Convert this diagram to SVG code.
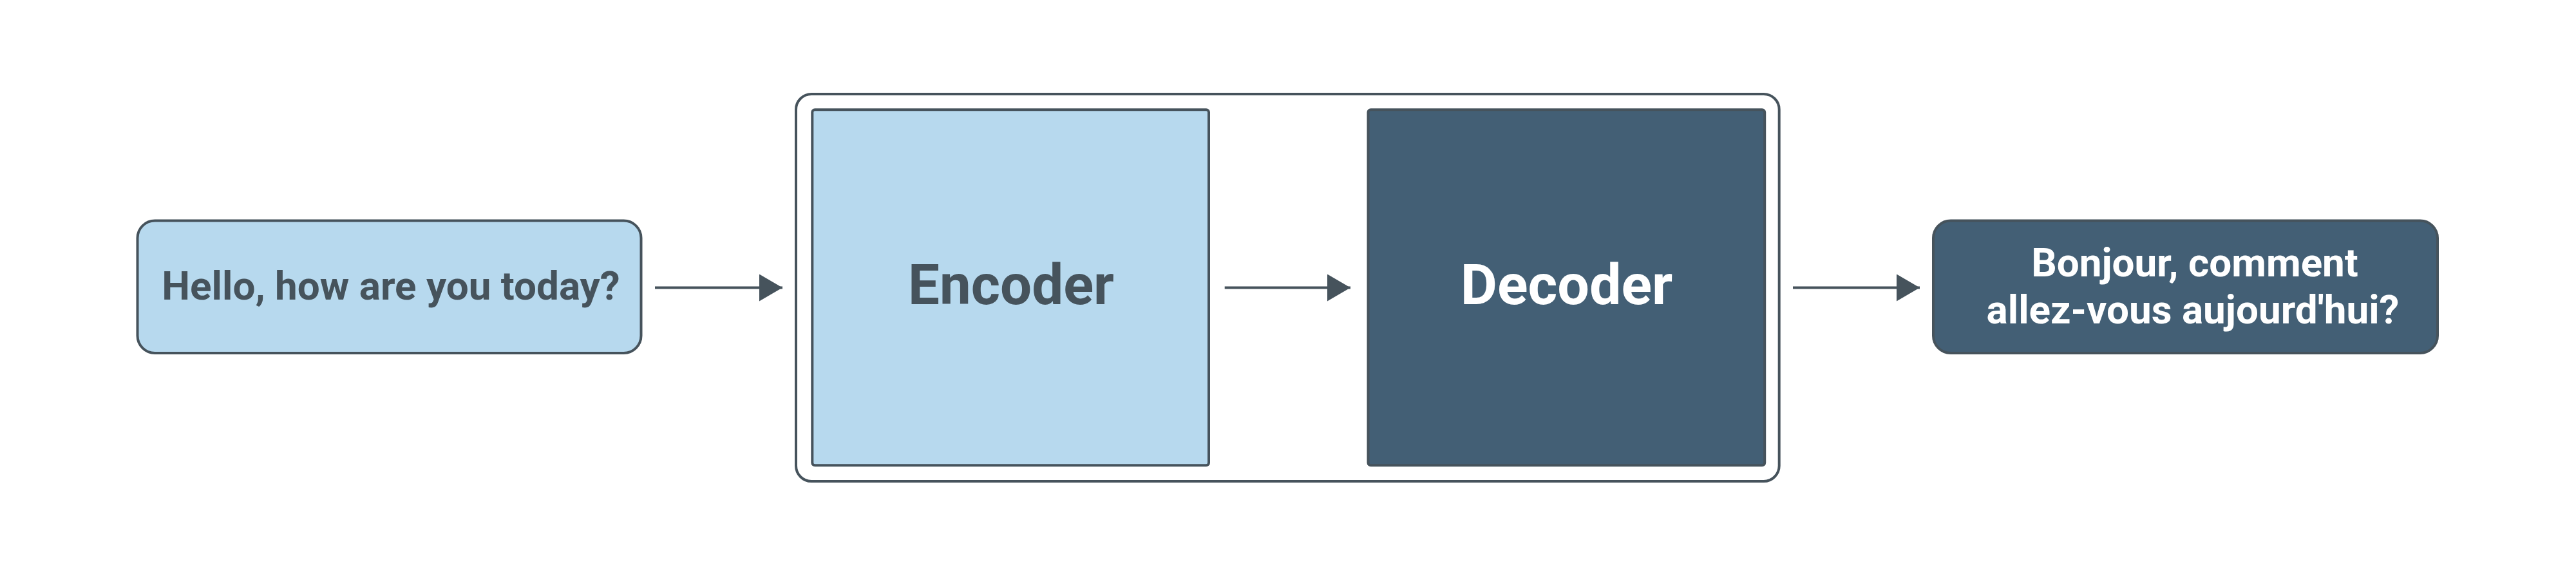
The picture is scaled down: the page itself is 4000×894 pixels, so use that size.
<svg xmlns="http://www.w3.org/2000/svg" width="4000" height="894" viewBox="0 0 4000 894">
  <defs>
    <style>
      .light { fill: #b7d9ee; stroke: #46535c; stroke-width: 4; }
      .dark { fill: #435f75; stroke: #46535c; stroke-width: 4; }
      .frame { fill: #ffffff; stroke: #46535c; stroke-width: 4; }
      .lbl { font-family: Roboto, "Liberation Sans", sans-serif; font-weight: 700; text-anchor: middle; }
      .t-dark { fill: #46535c; }
      .t-light { fill: #ffffff; }
      .conn { stroke: #46535c; stroke-width: 4; fill: none; }
    </style>
    <marker id="arrow" markerUnits="userSpaceOnUse" markerWidth="36" markerHeight="42" refX="36" refY="21" orient="auto">
      <path d="M0,0 L36,21 L0,42 Z" fill="#46535c"/>
    </marker>
  </defs>
  <rect width="4000" height="894" fill="#ffffff"/>

  <g id="input">
    <rect class="light" x="213.5" y="342.5" width="782" height="205.5" rx="27"/>
    <text class="lbl t-dark" x="607" y="465" font-size="62">Hello, how are you today?</text>
  </g>

  <g id="model">
    <rect class="frame" x="1236" y="146" width="1526.7" height="601" rx="24"/>
  </g>

  <g id="encoder">
    <rect class="light" x="1261.3" y="170.3" width="615.7" height="552" rx="4"/>
    <text class="lbl t-dark" x="1570" y="472" font-size="87">Encoder</text>
  </g>

  <g id="decoder">
    <rect class="dark" x="2124.5" y="170.3" width="615.7" height="552" rx="4"/>
    <text class="lbl t-light" x="2432.5" y="472" font-size="88">Decoder</text>
  </g>

  <g id="output">
    <rect class="dark" x="3002" y="342.5" width="783" height="205.5" rx="27"/>
    <text class="lbl t-light" x="3408" y="429" font-size="62">Bonjour, comment</text>
    <text class="lbl t-light" x="3405" y="502" font-size="62">allez-vous aujourd'hui?</text>
  </g>

  <g id="connectors">
    <line class="conn" x1="1017" y1="446.5" x2="1215" y2="446.5" marker-end="url(#arrow)"/>
    <line class="conn" x1="1901.7" y1="446.5" x2="2097" y2="446.5" marker-end="url(#arrow)"/>
    <line class="conn" x1="2784" y1="446.5" x2="2981" y2="446.5" marker-end="url(#arrow)"/>
  </g>
</svg>
